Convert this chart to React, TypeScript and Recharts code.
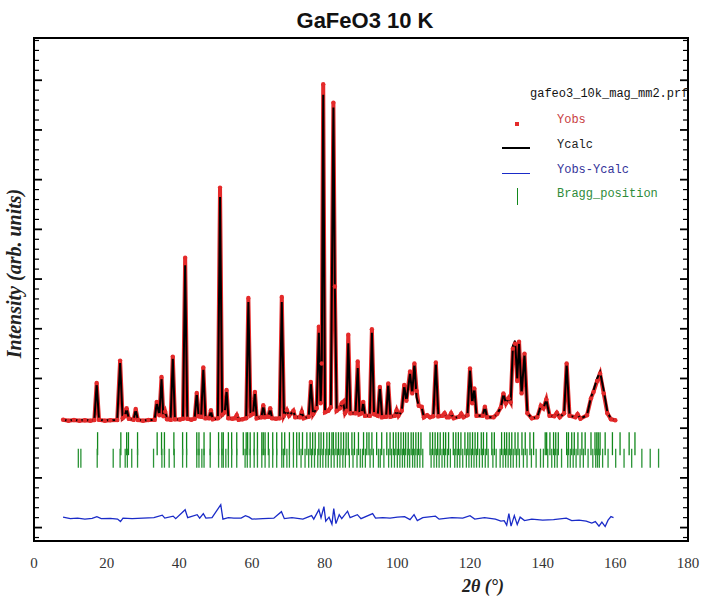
import React from 'react'
import { ComposedChart, Line, Scatter, XAxis, YAxis, ReferenceArea, Legend } from 'recharts'

// [2θ, Yobs, Ycalc] (arb. units)
const profile: [number, number, number][] = [
  [8.0, 170, 160], [9.5, 150, 158], [11, 165, 160], [12.5, 150, 158], [14, 160, 158], [15.5, 150, 158],
  [16.6, 165, 160], [17.25, 910, 880], [17.9, 170, 165], [19.5, 150, 160], [21, 160, 160], [22.9, 165, 165],
  [23.7, 1360, 1310], [24.4, 200, 190], [25.0, 240, 240], [25.5, 400, 390], [26.1, 190, 185], [27.4, 170, 170],
  [28.0, 385, 370], [28.6, 165, 165], [30, 150, 160], [31.5, 165, 160], [33.2, 170, 170], [33.8, 530, 520],
  [34.5, 260, 250], [35.1, 1030, 990], [35.6, 240, 240], [36.1, 330, 320], [36.6, 180, 180], [37.6, 170, 170],
  [38.2, 1440, 1400], [38.8, 180, 180], [40.2, 175, 175], [41.0, 190, 190], [41.6, 3430, 3280], [42.2, 190, 190],
  [43.3, 170, 170], [44.2, 190, 190], [44.8, 710, 700], [45.3, 240, 240], [46.0, 230, 230], [46.6, 1220, 1180],
  [47.2, 200, 200], [48.2, 200, 200], [48.7, 360, 350], [49.2, 180, 180], [50.6, 200, 190], [51.2, 4840, 4650],
  [51.8, 270, 260], [52.5, 320, 310], [53.0, 770, 750], [53.5, 200, 200], [54.6, 190, 190], [55.3, 200, 200],
  [55.8, 260, 260], [56.3, 170, 170], [57.4, 180, 180], [58.4, 200, 200], [59.0, 2620, 2540], [59.6, 260, 260],
  [60.3, 290, 290], [60.8, 730, 720], [61.3, 200, 200], [62.6, 220, 220], [63.1, 460, 450], [63.6, 220, 220],
  [64.5, 230, 230], [65.0, 400, 390], [65.5, 200, 200], [66.6, 190, 190], [67.6, 200, 200], [68.2, 2640, 2540],
  [68.8, 250, 250], [69.6, 360, 360], [70.2, 250, 250], [71.4, 350, 350], [71.9, 220, 220], [73.2, 220, 220],
  [73.7, 330, 330], [74.2, 200, 200], [75.6, 230, 230], [76.2, 930, 900], [76.8, 280, 280], [77.8, 400, 400],
  [78.4, 2040, 1920], [78.9, 500, 500], [79.2, 1300, 1250], [79.6, 6920, 6710], [80.1, 320, 320], [81.0, 350, 340],
  [81.7, 420, 420], [82.4, 6550, 6450], [82.8, 2850, 2850], [83.3, 350, 350], [84.2, 400, 400], [84.7, 500, 480],
  [85.1, 530, 520], [85.6, 300, 300], [86.0, 350, 350], [86.5, 1880, 1710], [87.1, 300, 300], [88.5, 300, 300],
  [89.1, 1340, 1210], [89.6, 280, 280], [90.2, 300, 300], [90.6, 530, 520], [91.1, 250, 250], [92.4, 250, 250],
  [93.0, 1990, 1920], [93.6, 280, 280], [94.6, 250, 250], [95.2, 830, 820], [95.8, 220, 220], [96.9, 230, 230],
  [97.5, 900, 880], [98.1, 230, 230], [99.3, 250, 250], [99.8, 360, 360], [100.3, 250, 250], [101.2, 350, 340],
  [101.9, 870, 850], [102.5, 550, 540], [103.5, 1140, 1100], [104.1, 700, 700], [104.7, 1300, 1300], [105.3, 750, 620],
  [105.9, 450, 450], [106.7, 430, 420], [107.3, 220, 220], [108.2, 260, 260], [109.0, 220, 220], [109.9, 240, 240],
  [110.6, 1320, 1300], [111.3, 240, 240], [112.4, 250, 250], [113.0, 300, 300], [113.6, 220, 220], [114.2, 220, 220],
  [114.8, 300, 296], [115.5, 200, 200], [117.0, 230, 230], [117.6, 290, 290], [118.2, 220, 220], [119.3, 260, 260],
  [120.0, 1200, 1180], [120.6, 500, 500], [121.2, 800, 790], [121.8, 250, 250], [123.5, 250, 250], [124.1, 430, 430],
  [124.7, 220, 220], [126.5, 220, 220], [127.5, 290, 290], [128.5, 420, 420], [129.2, 700, 690], [129.9, 500, 500],
  [130.6, 600, 600], [131.2, 520, 520], [131.8, 1600, 1650], [132.4, 1700, 1760], [133.0, 950, 1000], [133.5, 1740, 1720],
  [134.2, 700, 700], [135.0, 1500, 1480], [135.8, 300, 300], [137.0, 200, 200], [138.5, 220, 220], [139.5, 450, 450],
  [140.2, 400, 400], [141.0, 580, 570], [141.9, 250, 250], [143.2, 240, 240], [143.9, 310, 310], [144.7, 220, 220],
  [145.9, 300, 300], [146.6, 1300, 1280], [147.4, 250, 250], [149.0, 220, 220], [149.6, 280, 280], [150.4, 190, 190],
  [152.2, 260, 260], [153.3, 600, 620], [154.0, 730, 760], [155.0, 950, 1000], [155.8, 1100, 1130], [156.8, 700, 760],
  [157.8, 300, 330], [158.8, 180, 180], [160.0, 160, 160],
]

// [2θ, Yobs-Ycalc] (drawn with its offset)
const difference: [number, number][] = [
  [8.0, -1790], [10, -1820], [12, -1810], [14, -1830], [16, -1815], [17.3, -1780], [18.5, -1820], [21, -1815],
  [23.0, -1830], [23.8, -1880], [24.5, -1810], [27, -1820], [30, -1810], [33, -1800], [35.3, -1750], [36, -1810],
  [38.3, -1770], [39, -1820], [41.6, -1640], [42.3, -1800], [44.9, -1740], [45.6, -1810], [46.6, -1720], [47.3, -1810],
  [49, -1800], [51.4, -1540], [52, -1830], [53.5, -1800], [55, -1810], [57, -1810], [58.2, -1760], [59.2, -1790],
  [60, -1830], [63, -1820], [66, -1810], [68.1, -1680], [68.9, -1820], [71, -1800], [74, -1830], [76.4, -1760],
  [77, -1830], [78.4, -1640], [79.0, -1800], [79.8, -1580], [80.3, -1870], [81.2, -1790], [82.0, -1930], [82.5, -1620],
  [83.1, -1920], [84.0, -1740], [84.7, -1820], [86.3, -1670], [87, -1800], [89.0, -1740], [90, -1820], [93.2, -1720],
  [94, -1810], [96, -1800], [98, -1810], [100, -1790], [102, -1780], [103.5, -1840], [104.6, -1740], [105.5, -1860],
  [107, -1800], [110.5, -1770], [111.5, -1830], [115, -1800], [118, -1810], [120, -1760], [121.3, -1830], [124, -1800],
  [127, -1830], [128.5, -1870], [129.4, -1860], [130.1, -1950], [130.7, -1720], [131.3, -1970], [132.2, -1760],
  [133.0, -1940], [133.8, -1790], [135, -1860], [137, -1830], [140, -1850], [143, -1840], [146.5, -1810], [148, -1860],
  [150, -1850], [152, -1870], [153.5, -1910], [154.5, -1880], [155.5, -1970], [156.3, -1890], [157.2, -1980],
  [158.0, -1850], [158.8, -1780], [159.5, -1800],
]

// Bragg reflections, nuclear phase (upper row) and magnetic phase (lower row)
const braggNuclear = [
  17.5, 23.9, 25.5, 26.0, 28.5, 33.9, 35.1, 35.9, 38.5, 40.9, 42.0, 44.8, 45.4, 46.8, 48.5, 50.8, 51.7, 52.1, 53.5,
  54.4, 55.8, 57.6, 58.4, 58.8, 59.5, 60.6, 61.5, 62.7, 63.1, 63.6, 64.5, 65.7, 66.8, 68.2, 69.0, 70.3, 71.4, 72.3,
  73.0, 73.9, 75.1, 76.0, 76.7, 77.4, 78.4, 79.0, 79.7, 80.6, 81.3, 82.0, 82.4, 83.1, 83.8, 84.5, 85.2, 85.9, 86.5,
  87.5, 88.2, 89.3, 90.7, 91.6, 92.2, 93.0, 94.3, 95.7, 97.1, 98.0, 98.9, 99.6, 100.3, 101.0, 101.7, 102.3, 103.0,
  103.8, 104.4, 105.1, 105.8, 106.5, 109.0, 109.7, 110.4, 111.1, 111.8, 112.7, 113.3, 114.1, 115.4, 116.1, 116.8,
  117.5, 118.6, 119.4, 120.0, 120.7, 121.4, 122.1, 123.1, 123.7, 124.6, 126.0, 126.7, 128.7, 129.5, 130.1, 130.8,
  131.5, 132.4, 133.2, 134.3, 135.2, 136.5, 137.5, 140.7, 141.1, 142.0, 143.0, 143.6, 144.3, 146.6, 147.1, 148.0,
  148.7, 149.7, 150.8, 151.7, 153.3, 154.4, 154.9, 155.3, 155.8, 157.2, 159.2, 161.3, 163.8, 165.4,
]
const braggMagnetic = [
  12.2, 12.9, 17.4, 21.8, 23.7, 25.1, 25.7, 26.9, 28.5, 32.9, 35.2, 35.9, 37.2, 38.6, 40.9, 42.0, 44.8, 45.4, 46.2,
  46.8, 48.5, 50.8, 51.7, 52.1, 52.8, 53.5, 54.4, 55.8, 58.1, 58.7, 59.5, 60.6, 61.5, 62.7, 63.6, 64.7, 65.7, 66.8,
  68.2, 68.7, 69.6, 70.3, 71.4, 72.3, 73.5, 74.6, 75.6, 76.4, 77.2, 78.1, 78.8, 79.5, 80.3, 81.0, 81.8, 82.6, 83.5,
  84.2, 85.0, 85.7, 86.8, 87.8, 88.9, 89.8, 90.4, 91.2, 92.5, 93.4, 94.8, 95.3, 96.3, 97.6, 98.4, 99.2, 100.0, 100.7,
  101.4, 102.0, 102.8, 103.4, 104.2, 104.8, 105.5, 106.2, 107.0, 109.3, 110.1, 110.8, 111.5, 112.3, 113.0, 113.8,
  114.6, 115.8, 116.5, 117.2, 118.0, 119.0, 119.7, 120.4, 121.1, 121.8, 122.6, 123.4, 124.2, 125.0, 126.3, 127.2,
  128.3, 129.1, 129.8, 130.5, 131.2, 131.9, 132.8, 133.6, 134.7, 135.7, 136.9, 138.2, 139.4, 140.2, 141.4, 142.5,
  143.3, 144.0, 145.2, 146.9, 147.6, 148.4, 149.2, 150.3, 151.2, 152.5, 153.8, 154.6, 155.1, 155.6, 156.5, 158.0,
  160.1, 162.4, 164.5, 167.3, 169.6, 171.9,
]

const NUCLEAR_ROW = -312
const MAGNETIC_ROW = -604

const xLabels = [0, 20, 40, 60, 80, 100, 120, 140, 160, 180]
const xTicks = [
  0, 4, 8, 12, 16, 20, 24, 28, 32, 36, 40, 44, 48, 52, 56, 60, 64, 68, 72, 76, 80, 84, 88, 92, 96, 100, 104, 108,
  112, 116, 120, 124, 128, 132, 136, 140, 144, 148, 152, 156, 160, 164, 168, 172, 176, 180,
]
const yTicks = [
  -2200, -2000, -1800, -1600, -1400, -1200, -1000, -800, -600, -400, -200, 0, 200, 400, 600, 800, 1000, 1200, 1400,
  1600, 1800, 2000, 2200, 2400, 2600, 2800, 3000, 3200, 3400, 3600, 3800, 4000, 4200, 4400, 4600, 4800, 5000, 5200,
  5400, 5600, 5800, 6000, 6200, 6400, 6600, 6800, 7000, 7200, 7400, 7600, 7800,
]
const X_DOMAIN: [number, number] = [0, 180]
const Y_DOMAIN: [number, number] = [-2270, 7850]

const obsData = profile.map(([x, obs, calc]) => ({ x, obs, calc }))
const diffData = difference.map(([x, d]) => ({ x, d }))
const nuclearData = braggNuclear.map((x) => ({ x, y: NUCLEAR_ROW }))
const magneticData = braggMagnetic.map((x) => ({ x, y: MAGNETIC_ROW }))

const serif = '"Liberation Serif", "Times New Roman", serif'
const mono = '"Liberation Mono", "Courier New", monospace'
const RED = '#e42a2a'
const BLUE = '#1a2bc8'
const GREEN = '#12881c'

// inward frame ticks, longer on the major values
const frameTick = (side: 'top' | 'bottom' | 'left' | 'right', majorEvery: number) => (props: any) => {
  const { x, y, payload } = props
  const major = Math.abs(payload.value % majorEvery) < 1e-6
  const len = major ? 8 : 5
  const w = major ? 1.8 : 1.2
  if (side === 'bottom') return <line x1={x} x2={x} y1={y} y2={y - len} stroke="#000" strokeWidth={w} />
  if (side === 'top') return <line x1={x} x2={x} y1={y} y2={y + len} stroke="#000" strokeWidth={w} />
  if (side === 'left') return <line x1={x} x2={x + len} y1={y} y2={y} stroke="#000" strokeWidth={w} />
  return <line x1={x} x2={x - len} y1={y} y2={y} stroke="#000" strokeWidth={w} />
}

const BraggTick = (half: number, color: string) => (props: any) => (
  <line x1={props.cx} x2={props.cx} y1={props.cy - half} y2={props.cy + half} stroke={color} strokeWidth={1.3} />
)

const XTitle = ({ viewBox }: any) => (
  <text
    x={viewBox.x + viewBox.width / 2 + 122}
    y={viewBox.y + 51}
    textAnchor="middle"
    fontFamily={serif}
    fontStyle="italic"
    fontWeight="bold"
    fontSize={18}
    fill="#222"
  >
    2θ (°)
  </text>
)

const YTitle = ({ viewBox }: any) => {
  const cx = viewBox.x + 21
  const cy = viewBox.y + viewBox.height / 2 - 16
  return (
    <text
      x={cx}
      y={cy}
      transform={`rotate(-90 ${cx} ${cy})`}
      textAnchor="middle"
      fontFamily={serif}
      fontStyle="italic"
      fontWeight="bold"
      fontSize={20}
      fill="#222"
    >
      Intensity (arb. units)
    </text>
  )
}

const LegendBox = () => {
  const text: React.CSSProperties = { position: 'absolute', left: 62, whiteSpace: 'nowrap' }
  return (
    <div style={{ position: 'relative', width: 200, height: 130, fontFamily: mono, fontSize: 12, lineHeight: '14px' }}>
      <span style={{ ...text, left: 35, top: 5, color: '#111' }}>gafeo3_10k_mag_mm2.prf</span>
      <span style={{ position: 'absolute', left: 20, top: 40, width: 4, height: 4, background: RED }} />
      <span style={{ ...text, top: 31, color: '#c8403f' }}>Yobs</span>
      <span style={{ position: 'absolute', left: 7, top: 65, width: 28, height: 2, background: '#000' }} />
      <span style={{ ...text, top: 56, color: '#222' }}>Ycalc</span>
      <span style={{ position: 'absolute', left: 7, top: 91, width: 28, height: 1, background: BLUE }} />
      <span style={{ ...text, top: 81, color: '#34349a' }}>Yobs-Ycalc</span>
      <span style={{ position: 'absolute', left: 22, top: 106, width: 1, height: 17, background: GREEN }} />
      <span style={{ ...text, top: 105, color: '#2e8b3a' }}>Bragg_position</span>
    </div>
  )
}

export default function App() {
  return (
    <div style={{ position: 'absolute', left: 0, top: 0, width: 704, height: 596, background: '#fff' }}>
      <div
        style={{
          position: 'absolute',
          left: 0,
          top: 9,
          width: 730,
          textAlign: 'center',
          fontFamily: '"Liberation Sans", Arial, sans-serif',
          fontWeight: 'bold',
          fontSize: 22,
          lineHeight: '24px',
          color: '#111',
        }}
      >
        GaFeO3 10 K
      </div>
      <ComposedChart width={704} height={596} margin={{ top: 38, right: 16, bottom: 0, left: 0 }}>
        <XAxis
          xAxisId="x"
          dataKey="x"
          type="number"
          domain={X_DOMAIN}
          allowDataOverflow
          ticks={xLabels}
          interval={0}
          height={55}
          axisLine={false}
          tickLine={false}
          tickSize={0}
          tickMargin={16}
          tick={{ fontFamily: serif, fontSize: 15, fill: '#333' }}
          label={<XTitle />}
        />
        <XAxis
          xAxisId="xb"
          type="number"
          domain={X_DOMAIN}
          allowDataOverflow
          ticks={xTicks}
          interval={0}
          mirror
          height={1}
          axisLine={false}
          tickLine={false}
          tickSize={0}
          tickMargin={0}
          tick={frameTick('bottom', 20)}
        />
        <XAxis
          xAxisId="xt"
          orientation="top"
          type="number"
          domain={X_DOMAIN}
          allowDataOverflow
          ticks={xTicks}
          interval={0}
          mirror
          height={1}
          axisLine={false}
          tickLine={false}
          tickSize={0}
          tickMargin={0}
          tick={frameTick('top', 20)}
        />
        <YAxis
          yAxisId="y"
          dataKey="y"
          type="number"
          domain={Y_DOMAIN}
          allowDataOverflow
          width={34}
          tick={false}
          axisLine={false}
          tickLine={false}
          label={<YTitle />}
        />
        <YAxis
          yAxisId="yl"
          type="number"
          domain={Y_DOMAIN}
          allowDataOverflow
          ticks={yTicks}
          interval={0}
          mirror
          width={1}
          axisLine={false}
          tickLine={false}
          tickSize={0}
          tickMargin={0}
          tick={frameTick('left', 1000)}
        />
        <YAxis
          yAxisId="yr"
          orientation="right"
          type="number"
          domain={Y_DOMAIN}
          allowDataOverflow
          ticks={yTicks}
          interval={0}
          mirror
          width={1}
          axisLine={false}
          tickLine={false}
          tickSize={0}
          tickMargin={0}
          tick={frameTick('right', 1000)}
        />
        <Line
          xAxisId="x"
          yAxisId="y"
          data={obsData}
          dataKey="obs"
          type="linear"
          stroke={RED}
          strokeWidth={4}
          dot={{ r: 2.2, fill: RED, stroke: 'none' }}
          isAnimationActive={false}
        />
        <Line
          xAxisId="x"
          yAxisId="y"
          data={obsData}
          dataKey="calc"
          type="linear"
          stroke="#000"
          strokeWidth={2}
          dot={false}
          isAnimationActive={false}
        />
        <Line
          xAxisId="x"
          yAxisId="y"
          data={diffData}
          dataKey="d"
          type="linear"
          stroke={BLUE}
          strokeWidth={1.3}
          dot={false}
          isAnimationActive={false}
        />
        <Scatter
          xAxisId="x"
          yAxisId="y"
          data={nuclearData}
          dataKey="y"
          shape={BraggTick(11.5, GREEN)}
          isAnimationActive={false}
        />
        <Scatter
          xAxisId="x"
          yAxisId="y"
          data={magneticData}
          dataKey="y"
          shape={BraggTick(9.5, '#2a9336')}
          isAnimationActive={false}
        />
        <ReferenceArea
          xAxisId="x"
          yAxisId="y"
          x1={X_DOMAIN[0]}
          x2={X_DOMAIN[1]}
          y1={Y_DOMAIN[0]}
          y2={Y_DOMAIN[1]}
          fill="none"
          stroke="#000"
          strokeWidth={2}
          ifOverflow="visible"
        />
        <Legend
          layout="vertical"
          align="center"
          verticalAlign="middle"
          content={<LegendBox />}
          wrapperStyle={{ top: 82, left: 495, width: 200 }}
        />
      </ComposedChart>
    </div>
  )
}
